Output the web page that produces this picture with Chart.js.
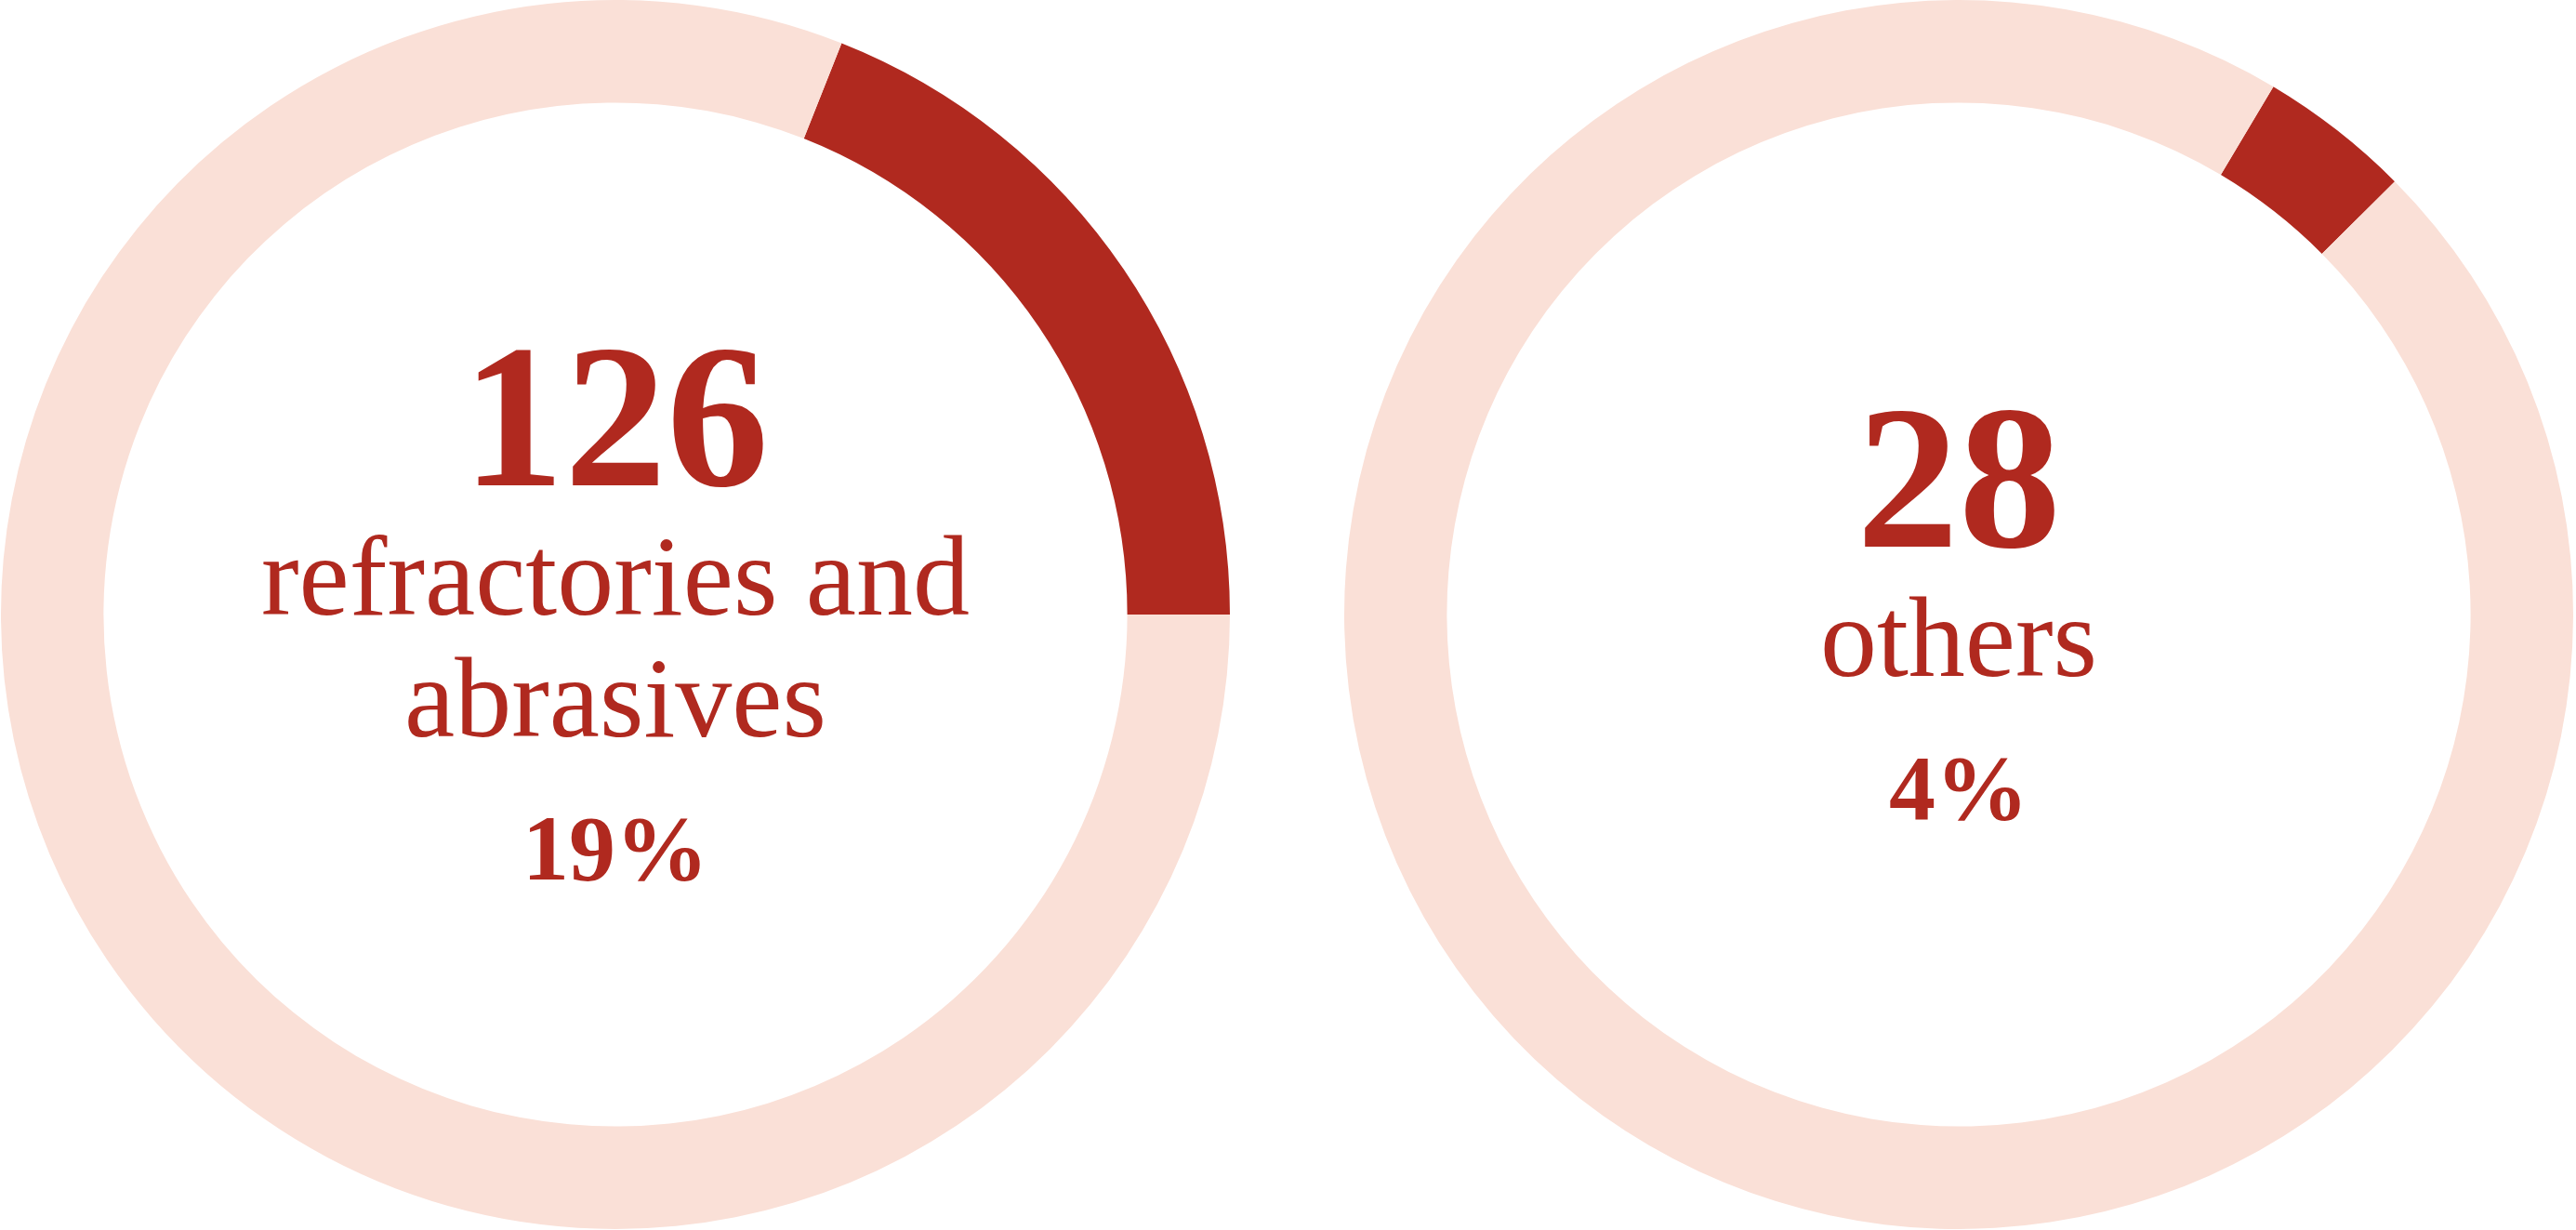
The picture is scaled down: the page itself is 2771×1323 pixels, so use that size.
<!DOCTYPE html>
<html>
<head>
<meta charset="utf-8">
<script src="https://cdn.jsdelivr.net/npm/chart.js@4/dist/chart.umd.min.js"></script>
<style>
    html, body { margin: 0; padding: 0; background: #fff; }
    body { width: 2771px; height: 1323px; position: relative; overflow: hidden; }
    .donut { position: absolute; top: 0; width: 1322px; height: 1322px; }
    #wrap-left { left: 1px; }
    #wrap-right { left: 1446px; }
</style>
</head>
<body>
<div class="donut" id="wrap-left"><canvas id="chart-left"></canvas></div>
<div class="donut" id="wrap-right"><canvas id="chart-right"></canvas></div>
<script>
// data
const categories = ["refractories and abrasives", "others"];
const labelLines = [["refractories and", "abrasives"], ["others"]];
const counts = [126, 28];
const shares = [19, 4];          // percent of total
const rotations = [21.6, 30.8];  // where the dark arc starts (deg from top)

const DARK = "#b0291f";
const LIGHT = "#fae0d7";

// draws number / label / percent in the hole
const centerText = {
    id: "centerText",
    afterDraw(chart, args, opts) {
        const arc = chart.getDatasetMeta(0).data[0];
        const cx = arc.x, cy = arc.y;
        const ctx = chart.ctx;
        const lines = opts.lines;
        // gaps between baselines
        const gapTop = 139, gapLine = 131, gapBottom = 154;
        const total = gapTop + gapLine * (lines.length - 1) + gapBottom;
        let y = cy + 73 - total / 2;

        ctx.save();
        ctx.fillStyle = DARK;
        ctx.textAlign = "center";
        ctx.textBaseline = "alphabetic";

        ctx.font = "bold 220px 'Liberation Serif'";
        ctx.fillText(String(opts.count), cx, y);

        ctx.font = "122px 'Liberation Serif'";
        y += gapTop;
        lines.forEach((l, i) => {
            if (i > 0) y += gapLine;
            ctx.fillText(l, cx, y);
        });

        ctx.font = "bold 100px 'Liberation Serif'";
        y += gapBottom;
        ctx.fillText(opts.share + "%", cx, y);
        ctx.restore();
    }
};

function makeDonut(id, i) {
    new Chart(document.getElementById(id), {
        type: "doughnut",
        data: {
            labels: [categories[i], "rest"],
            datasets: [{
                data: [shares[i], 100 - shares[i]],
                backgroundColor: [DARK, LIGHT],
                borderWidth: 0,
                hoverOffset: 0
            }]
        },
        options: {
            responsive: true,
            maintainAspectRatio: false,
            animation: false,
            cutout: "83.3%",
            rotation: rotations[i],
            layout: { padding: 0 },
            events: [],
            plugins: {
                legend: { display: false },
                tooltip: { enabled: false },
                centerText: {
                    count: counts[i],
                    share: shares[i],
                    lines: labelLines[i]
                }
            }
        },
        plugins: [centerText]
    });
}

makeDonut("chart-left", 0);
makeDonut("chart-right", 1);
</script>
</body>
</html>
